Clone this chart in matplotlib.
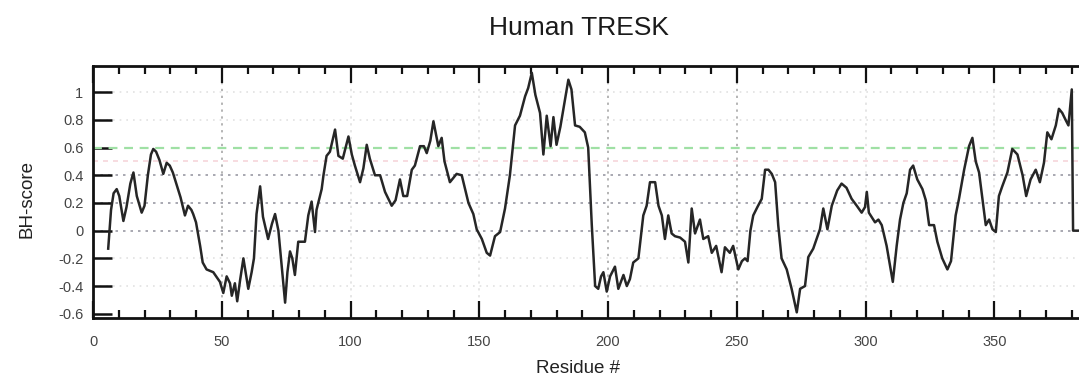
import matplotlib
matplotlib.use("Agg")
import matplotlib.pyplot as plt
from matplotlib.ticker import MultipleLocator

plt.rcParams['font.family'] = ['Liberation Sans', 'DejaVu Sans']

# hydrophobicity trace (residue position, BH score)
residue = [
    5.9, 7.0, 8.0, 9.2, 10.2, 11.8, 13.0, 14.5, 15.7, 17.0, 18.9, 20.0, 21.3,
    22.5, 23.4, 24.5, 25.8, 27.3, 28.6, 29.8, 31.0, 32.5, 34.0, 35.7, 36.9,
    38.2, 38.9, 40.0, 41.6, 42.6, 44.1, 46.7, 49.3, 50.6, 51.9, 53.2, 53.9,
    55.1, 56.0, 57.1, 58.4, 60.3, 61.6, 62.5, 63.5, 64.9, 66.0, 68.0, 69.5,
    70.7, 72.0, 73.5, 74.6, 75.5, 76.5, 77.4, 78.4, 79.7, 81.0, 82.3, 83.6,
    84.9, 86.2, 86.8, 88.8, 89.5, 90.7, 92.0, 94.0, 95.3, 97.0, 99.2, 100.5,
    101.7, 103.7, 105.0, 106.3, 107.5, 109.5, 111.5, 113.4, 116.0, 117.5,
    119.2, 120.5, 122.0, 123.8, 125.0, 127.0, 128.5, 129.6, 131.0, 132.2,
    134.1, 135.4, 136.5, 138.6, 141.2, 143.2, 144.5, 145.8, 147.7, 149.0,
    151.0, 152.9, 154.2, 156.1, 158.1, 160.0, 161.9, 163.9, 165.8, 167.8,
    169.0, 170.4, 171.8, 173.6, 174.9, 176.2, 177.7, 178.8, 180.0, 181.5,
    183.3, 184.6, 185.8, 187.2, 189.0, 191.0, 192.3, 193.7, 195.0, 196.2,
    197.3, 198.2, 199.5, 200.8, 202.7, 204.0, 206.0, 207.3, 208.5, 209.8,
    211.8, 213.7, 215.0, 216.3, 218.3, 219.6, 220.9, 222.1, 223.4, 224.7,
    226.0, 228.0, 229.9, 231.2, 232.5, 233.8, 235.7, 237.0, 238.9, 240.3,
    242.0, 244.1, 245.4, 247.3, 248.6, 250.6, 252.0, 253.2, 254.2, 255.3,
    256.4, 258.0, 259.7, 261.0, 262.3, 263.6, 264.9, 266.1, 267.4, 269.4,
    271.3, 273.3, 274.6, 276.5, 277.8, 279.7, 282.3, 283.6, 285.2, 286.9,
    289.0, 290.7, 292.6, 294.6, 296.6, 298.5, 299.8, 300.5, 301.3, 303.7,
    305.0, 306.3, 308.2, 309.5, 310.6, 312.1, 313.4, 314.7, 316.0, 317.3,
    318.5, 320.1, 322.1, 323.4, 324.7, 326.6, 327.9, 329.8, 331.8, 333.2,
    335.0, 336.3, 338.3, 340.2, 341.5, 342.8, 344.1, 345.4, 346.7, 348.0,
    349.3, 350.6, 351.8, 353.1, 355.1, 357.0, 359.0, 361.0, 362.4, 364.1,
    366.1, 367.7, 369.3, 370.6, 372.2, 373.9, 375.1, 376.4, 377.7, 378.8,
    380.1, 380.6, 385.0,
]
bh_score = [
    -0.13, 0.15, 0.27, 0.30, 0.25, 0.07, 0.17, 0.34, 0.42, 0.25, 0.13, 0.18, 0.40,
    0.55, 0.59, 0.57, 0.51, 0.41, 0.49, 0.47, 0.42, 0.33, 0.24, 0.11, 0.18,
    0.15, 0.12, 0.06, -0.11, -0.23, -0.28, -0.30, -0.37, -0.45, -0.33, -0.38, -0.47,
    -0.38, -0.51, -0.36, -0.20, -0.42, -0.30, -0.20, 0.12, 0.32, 0.10, -0.06, 0.05,
    0.12, 0.00, -0.30, -0.52, -0.30, -0.15, -0.20, -0.32, -0.08, -0.08, -0.08, 0.11,
    0.21, -0.01, 0.15, 0.30, 0.40, 0.54, 0.57, 0.73, 0.54, 0.52, 0.68, 0.55,
    0.47, 0.35, 0.45, 0.62, 0.52, 0.40, 0.40, 0.28, 0.18, 0.22,
    0.37, 0.25, 0.25, 0.44, 0.47, 0.61, 0.61, 0.56, 0.65, 0.79,
    0.61, 0.67, 0.50, 0.35, 0.41, 0.40, 0.30, 0.20, 0.12, 0.01,
    -0.06, -0.16, -0.18, -0.04, -0.01, 0.16, 0.40, 0.76, 0.83, 0.97,
    1.03, 1.14, 0.98, 0.85, 0.55, 0.83, 0.61, 0.82, 0.62, 0.75,
    0.95, 1.09, 1.02, 0.76, 0.75, 0.71, 0.60, 0.04, -0.40, -0.42,
    -0.33, -0.30, -0.44, -0.33, -0.26, -0.42, -0.32, -0.40, -0.35, -0.23,
    -0.20, 0.11, 0.18, 0.35, 0.35, 0.18, 0.11, -0.06, 0.11, -0.02,
    -0.04, -0.05, -0.08, -0.23, 0.16, -0.02, 0.08, -0.06, -0.04, -0.16,
    -0.11, -0.30, -0.12, -0.16, -0.11, -0.28, -0.22, -0.20, -0.22, 0.00,
    0.11, 0.17, 0.23, 0.44, 0.44, 0.41, 0.35, 0.04, -0.20, -0.28,
    -0.42, -0.59, -0.42, -0.40, -0.19, -0.13, 0.01, 0.16, 0.01, 0.18,
    0.29, 0.34, 0.31, 0.23, 0.18, 0.13, 0.17, 0.28, 0.13, 0.06,
    0.08, 0.04, -0.11, -0.25, -0.37, -0.11, 0.08, 0.20, 0.27, 0.44,
    0.47, 0.37, 0.30, 0.22, 0.04, 0.04, -0.08, -0.20, -0.28, -0.22,
    0.11, 0.23, 0.44, 0.61, 0.67, 0.50, 0.42, 0.23, 0.04, 0.08,
    0.01, -0.01, 0.25, 0.32, 0.42, 0.59, 0.55, 0.40, 0.25, 0.37,
    0.44, 0.35, 0.49, 0.71, 0.66, 0.76, 0.88, 0.85, 0.80, 0.76,
    1.02, 0.00, 0.00,
]

threshold = 0.6
x_major = 50
x_minor = 10
y_step = 0.2

fig = plt.figure(figsize=(10.79, 3.83), dpi=100)
ax = fig.add_axes([0.0862, 0.170, 0.9188, 0.658])

# dotted reference grid
for xv in range(50, 385, 50):
    strong = xv in (50, 200, 250)
    ax.axvline(xv, color='#a0a0a0' if strong else '#dedede', lw=1.1,
               ls=(0, (1.5, 3)), zorder=1)
for yv in [-0.4, -0.2, 0.0, 0.2, 0.4, 0.8, 1.0]:
    strong = yv in (0.0, 0.2, 0.4)
    ax.axhline(yv, color='#9a9aa4' if strong else '#e2e2e2', lw=1.2,
               ls=(0, (1.5, 3)) if strong else (0, (1, 3)), zorder=1)
ax.axhline(0.5, color='#f6d6da', lw=1.2, ls=(0, (3, 3)), zorder=1)
ax.axhline(threshold, color='#9fe0a4', lw=1.6, ls=(0, (4, 3)), zorder=2)

ax.plot(residue, bh_score, color='#262626', lw=1.8, zorder=3)

ax.set_xlim(0, 385)
ax.set_ylim(-0.63, 1.19)
ax.xaxis.set_major_locator(MultipleLocator(x_major))
ax.xaxis.set_minor_locator(MultipleLocator(x_minor))
ax.yaxis.set_major_locator(MultipleLocator(y_step))
ax.set_yticks([-0.6, -0.4, -0.2, 0, 0.2, 0.4, 0.6, 0.8, 1])
ax.set_yticklabels(['-0.6', '-0.4', '-0.2', '0', '0.2', '0.4', '0.6', '0.8', '1'])

ax.tick_params(axis='x', which='both', direction='in', top=True, bottom=True,
               colors='#111111', labelcolor='#444444', labelsize=10.5, pad=12)
ax.tick_params(axis='x', which='major', length=12, width=1.6)
ax.tick_params(axis='x', which='minor', length=6, width=1.6)
ax.tick_params(axis='y', which='major', direction='in', left=True, right=False,
               length=14, width=1.8, colors='#111111', labelcolor='#444444',
               labelsize=10.5, pad=7)
for sp in ax.spines.values():
    sp.set_linewidth(2.0)
    sp.set_color('#111111')

ax.set_xlabel('Residue #', fontsize=13.5, color='#222222')
ax.set_ylabel('BH-score', fontsize=13.5, color='#222222')
ax.xaxis.set_label_coords(0.489, -0.20)
ax.xaxis.label.set_va('center')
ax.yaxis.set_label_coords(-0.067, 0.47)
ax.yaxis.label.set_va('center')

fig.text(0.537, 0.927, 'Human TRESK', fontsize=19, ha='center', va='center',
         color='#1a1a1a')

fig.savefig('out.png', dpi=100)
